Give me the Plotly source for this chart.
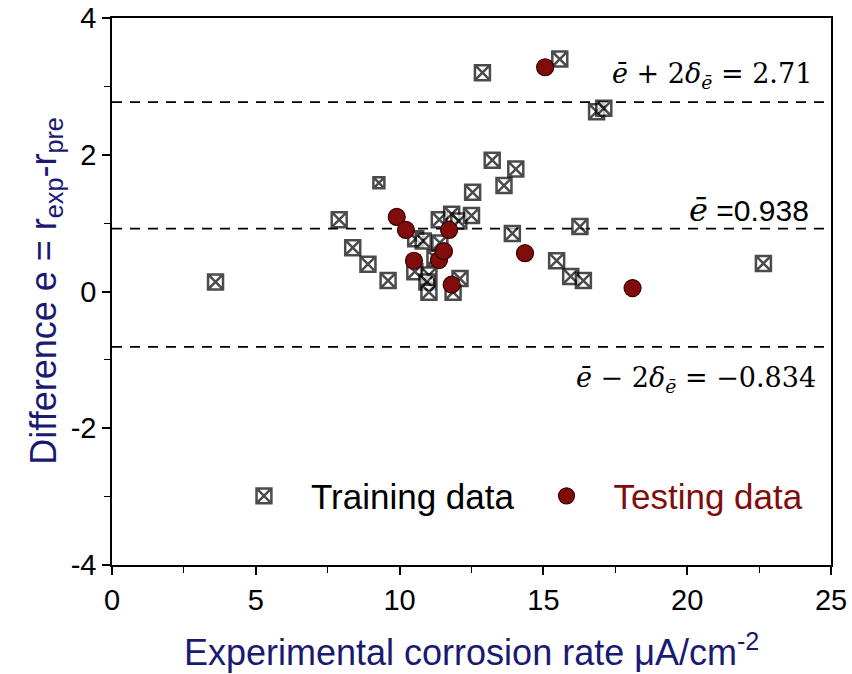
import plotly.graph_objects as go

# ---------------- data ----------------
train_x = [3.6, 7.9, 8.37, 8.9, 9.28, 9.6, 10.56, 10.82, 10.53, 11.02, 10.95, 11.02,
           11.23, 11.4, 11.38, 11.81, 12.06, 11.86, 12.1, 12.5, 12.54, 12.88, 13.22,
           13.63, 14.04, 13.92, 15.57, 16.85, 17.1, 16.27, 15.46, 15.95, 16.39, 22.65]
train_y = [0.14, 1.05, 0.64, 0.40, 1.59, 0.16, 0.77, 0.74, 0.29, 0.24, 0.14, -0.01,
           0.49, 0.71, 1.05, 1.13, 1.03, -0.01, 0.19, 1.11, 1.45, 3.20, 1.92,
           1.55, 1.79, 0.85, 3.40, 2.63, 2.68, 0.95, 0.45, 0.22, 0.16, 0.41]

test_x = [9.9, 10.22, 10.5, 11.37, 11.54, 11.72, 11.81, 14.36, 15.06, 18.1]
test_y = [1.09, 0.90, 0.45, 0.46, 0.59, 0.90, 0.10, 0.56, 3.28, 0.05]

# reference lines (positions)
line_values = [2.77, 0.92, -0.81]

x_range = [0, 25]
y_range = [-4, 4]
x_ticks = [0, 5, 10, 15, 20, 25]
x_ticklabels = ["0", "5", "10", "15", "20", "25"]
y_ticks = [-4, -2, 0, 2, 4]
y_ticklabels = ["-4", "-2", "0", "2", "4"]

x_title = "Experimental corrosion rate μA/cm<sup>-2</sup>"
y_title = "Difference e = r<sub>exp</sub>-r<sub>pre</sub>"

NAVY = "#1a1a72"
RED = "#800c0c"

fig = go.Figure()

small_idx = 4  # one marker drawn smaller in the original
train_sizes = [11 if i == small_idx else 15 for i in range(len(train_x))]

fig.add_trace(go.Scatter(
    x=train_x, y=train_y, mode="markers", name="Training data",
    marker=dict(symbol="square-x", size=train_sizes, color="white",
                line=dict(width=2.5, color="black")),
))
fig.add_trace(go.Scatter(
    x=test_x, y=test_y, mode="markers",
    name="<span style='color:%s'>Testing data</span>" % RED,
    marker=dict(symbol="circle", size=17, color=RED,
                line=dict(width=1.2, color="#3a0000")),
))

for v in line_values:
    fig.add_shape(type="line", xref="x", yref="y", x0=x_range[0], x1=x_range[1],
                  y0=v, y1=v, line=dict(color="black", width=1.8, dash="10px,8px"),
                  layer="below")

serif = "DejaVu Serif"
fig.add_annotation(
    x=24.4, y=line_values[0], xref="x", yref="y", yshift=27, xanchor="right",
    yanchor="middle", showarrow=False,
    text="<i>ē</i> + 2<i>δ</i><sub><i>ē</i></sub> = 2.71",
    font=dict(family=serif, size=27, color="black"))
fig.add_annotation(
    x=24.3, y=line_values[1], xref="x", yref="y", yshift=19, xanchor="right",
    yanchor="middle", showarrow=False,
    text="<span style='font-family:DejaVu Serif;font-size:32px'><i>ē</i></span> =0.938",
    font=dict(family="Liberation Sans", size=30, color="black"))
fig.add_annotation(
    x=24.55, y=line_values[2], xref="x", yref="y", yshift=-33, xanchor="right",
    yanchor="middle", showarrow=False,
    text="<i>ē</i> − 2<i>δ</i><sub><i>ē</i></sub> = −0.834",
    font=dict(family=serif, size=27, color="black"))

# axis titles
fig.add_annotation(
    x=0.5, y=-0.155, xref="paper", yref="paper", xanchor="center", yanchor="middle",
    showarrow=False, text=x_title,
    font=dict(family="Liberation Sans", size=36, color=NAVY))
fig.add_annotation(
    x=-0.093, y=0.5, xref="paper", yref="paper", xanchor="center", yanchor="middle",
    showarrow=False, text=y_title, textangle=-90,
    font=dict(family="Liberation Sans", size=36, color=NAVY))

axis_common = dict(
    showline=True, linecolor="black", linewidth=1.5, mirror=True,
    ticks="outside", ticklen=8, tickwidth=1.5, tickcolor="black",
    showgrid=False, zeroline=False, automargin=False,
    tickfont=dict(family="Liberation Sans", size=29, color="black"),
)

fig.update_xaxes(range=x_range, tickvals=x_ticks, ticktext=x_ticklabels,
                 minor=dict(dtick=2.5, tick0=0, ticks="outside", ticklen=6, tickcolor="black", tickwidth=1.2),
                 **axis_common)
fig.update_yaxes(range=y_range, tickvals=y_ticks, ticktext=y_ticklabels,
                 minor=dict(dtick=1, tick0=0, ticks="outside", ticklen=6, tickcolor="black", tickwidth=1.2),
                 **axis_common)

fig.update_layout(
    width=852, height=674,
    margin=dict(l=112, r=21, t=18, b=109),
    plot_bgcolor="white", paper_bgcolor="white",
    showlegend=True,
    legend=dict(orientation="h", x=0.146, y=0.126, xanchor="left", yanchor="middle",
                font=dict(family="Liberation Sans", size=35, color="black"),
                itemwidth=84, bgcolor="rgba(0,0,0,0)", itemsizing="trace"),
)

fig.write_html("out.html")
